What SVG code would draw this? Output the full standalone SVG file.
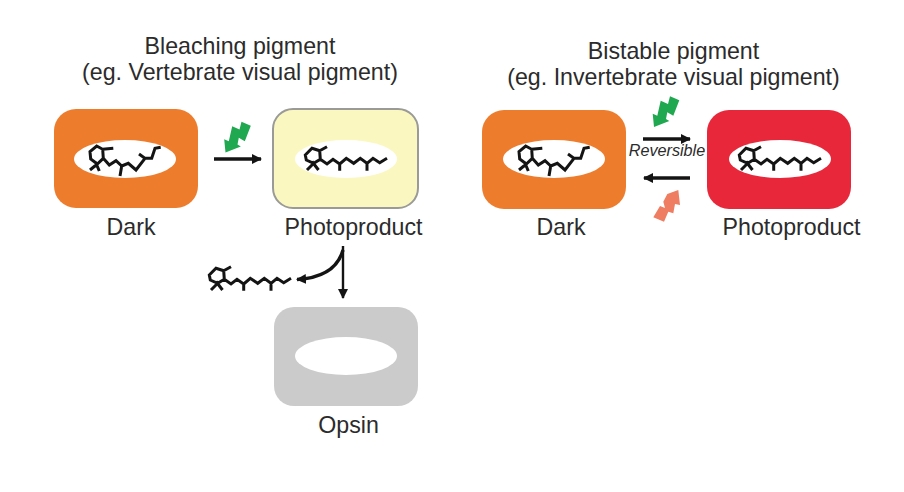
<svg xmlns="http://www.w3.org/2000/svg" width="904" height="492" viewBox="0 0 904 492">
<style>
text{font-family:"Liberation Sans",Arial,sans-serif;fill:#2b2b2b;text-anchor:middle}
.t{font-size:23.2px}
.l{font-size:23.2px}
.r{font-size:16.2px;font-style:italic}
.box{stroke:none}
.hole{fill:#fff}
.mol{fill:none;stroke:#141414;stroke-width:3;stroke-linejoin:miter}
.conn{fill:none;stroke:#141414;stroke-width:3.4}
</style>
<defs>
<marker id="ah" markerUnits="userSpaceOnUse" markerWidth="10" markerHeight="11" refX="9" refY="5.500" orient="auto"><path d="M0,0.500L10,5.500L0,10.500Z" fill="#141414"/></marker>
<path id="cis" class="mol" d="M-35,-7.3L-28.3,-13L-22.3,-9.7L-21.7,-0.7L-27.700,5L-34.3,0Z M-22.3,-9.7L-11.7,-10.7 M-27.7,5L-35,11 M-29.500,3L-25.700,12 M-21.7,-0.7L-15.7,6L-9,1.7L-3.3,7L-5,17 M-3.3,7L3.3,4.3L11,11L20,-0.7L14,-5 M20,-0.7L26.7,-0.7L30,-10.7L35.700,-11.7"/>
<path id="trans" class="mol" d="M-40.7,-4L-34,-10.7L-26.3,-8.3L-25.7,0.3L-32.3,4.3L-39.7,1Z M-26.3,-8.3L-19,-12.3 M-32.3,4.3L-39,11 M-34,2.500L-27.500,11 M-25.7,0.3L-19,5L-13,0.3L-6.3,5L-6.3,11.7 M-6.3,5L0.3,-0.7L7.7,4.3L14.3,-0.7L21,4.3L21,11.7 M21,4.3L27,-0.7L33.7,3.7L41,-0.7"/>
<polygon id="bolt" points="0,0 -1.3,-13.3 3.3,-11.3 6.7,-26.3 14,-23 16,-30.7 25.3,-26.7 19.3,-11.3 13.3,-14.7 12,-8 15.3,-6"/>
</defs>

<g id="connectors">
<path class="conn" marker-end="url(#ah)" d="M214,159H261"/>
<path class="conn" marker-end="url(#ah)" d="M643,139H690"/>
<path class="conn" marker-end="url(#ah)" d="M690,178H644"/>
<path class="conn" style="stroke-width:2.4" marker-end="url(#ah)" d="M343,246V298"/>
<path class="conn" marker-end="url(#ah)" d="M343,250C338,268 322,278 297,279.500"/>
</g>

<g id="title-bleaching">
<text class="t" x="240" y="54">Bleaching pigment</text>
<text class="t" x="240" y="80">(eg. Vertebrate visual pigment)</text>
</g>
<g id="title-bistable">
<text class="t" x="673.500" y="59">Bistable pigment</text>
<text class="t" x="673.500" y="85">(eg. Invertebrate visual pigment)</text>
</g>

<g id="node-dark-1">
<rect class="box" x="54" y="109" width="144" height="99" rx="22" fill="#ed7d2d"/>
<ellipse class="hole" cx="125" cy="159" rx="51" ry="19"/>
<use href="#cis" x="125" y="159"/>
<text class="l" x="131" y="235">Dark</text>
</g>
<g id="node-photoproduct-1">
<rect x="273" y="109" width="145" height="99" rx="20" fill="#fbf7c1" stroke="#9a9a96" stroke-width="2"/>
<ellipse class="hole" cx="346" cy="159" rx="51" ry="19"/>
<use href="#trans" x="346" y="159"/>
<text class="l" x="353.500" y="235">Photoproduct</text>
</g>
<g id="node-free-retinal">
<use href="#trans" x="250" y="279"/>
</g>
<g id="node-opsin">
<rect class="box" x="274" y="307" width="144" height="99" rx="20" fill="#cbcbcb"/>
<ellipse class="hole" cx="346" cy="356" rx="51" ry="19"/>
<text class="l" x="348.500" y="433">Opsin</text>
</g>
<g id="node-dark-2">
<rect class="box" x="482" y="110" width="144" height="99" rx="22" fill="#ed7d2d"/>
<ellipse class="hole" cx="554" cy="159" rx="51" ry="19"/>
<use href="#cis" x="554" y="159"/>
<text class="l" x="561" y="235">Dark</text>
</g>
<g id="node-photoproduct-2">
<rect class="box" x="707" y="110" width="144" height="99" rx="22" fill="#e8283a"/>
<ellipse class="hole" cx="780" cy="159" rx="51" ry="19"/>
<use href="#trans" x="780" y="159"/>
<text class="l" x="791.500" y="235">Photoproduct</text>
</g>

<g id="light-bolts">
<use href="#bolt" x="225.500" y="152.500" fill="#1fa84f"/>
<use href="#bolt" x="654" y="127" fill="#1fa84f"/>
<polygon fill="#ee7d62" points="678.300,190 680,205 675,204 673.300,213.300 668.300,211.700 664,221.700 653.300,217.300 660,206 665,208 663.300,201.700 667.300,194"/>
</g>
<text class="r" x="667" y="156">Reversible</text>
</svg>
